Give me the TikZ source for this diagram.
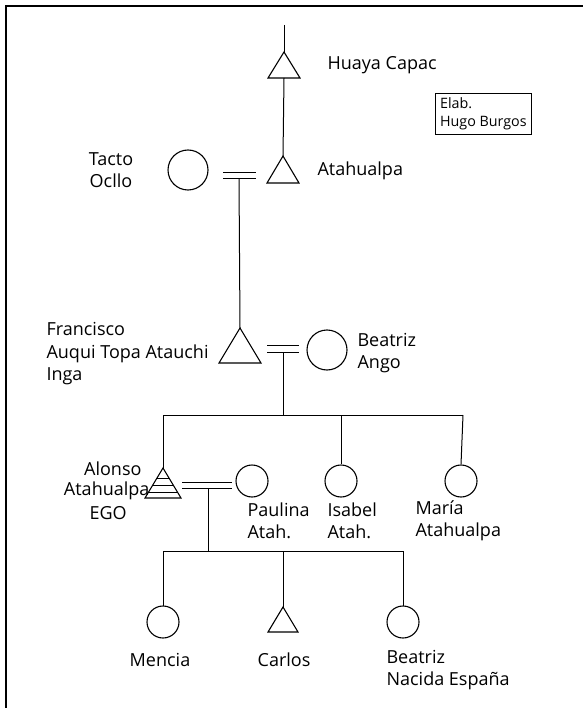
\documentclass[tikz,border=0pt]{standalone}
\usepackage{fontspec}
\setmainfont{Open Sans}
\begin{document}
\begin{tikzpicture}[x=1pt,y=-1pt,line width=1.1pt,
  female/.style={draw,circle,inner sep=0pt,minimum size=#1},
  lbl/.style={font=\fontsize{18}{22.5}\selectfont,inner sep=0pt,align=left},
  lblc/.style={font=\fontsize{18}{22.5}\selectfont,inner sep=0pt,align=center},
  link/.style={line width=1pt},
  marr/.style={line width=1pt}]
\useasboundingbox (0,0) rectangle (582,708);
% frame
\draw[line width=1.2pt] (6,6) rectangle (600,730);

% Huaya Capac
\coordinate (hcTop) at (284,25);
\coordinate (hcA) at (284,52);
\coordinate (hcB) at (284,78);
\draw (hcA) -- (268,78) -- (300,78) -- cycle;
\node[lbl,anchor=west] (hcL) at (327,65) {Huaya Capac};
\draw[link] (hcTop) -- (hcA);

% Atahualpa
\coordinate (atA) at (283,156);
\draw (atA) -- (267,183) -- (299,183) -- cycle;
\node[lbl,anchor=west] (atL) at (317,171) {Atahualpa};
\draw[link] (hcB) -- (atA);

% Tacto Ocllo
\node[female=40pt] (to) at (188,170) {};
\node[lblc] (toL) at (111,170) {Tacto\\Ocllo};

% marriage Tacto Ocllo = Atahualpa
\draw[marr] (223,173) -- (256,173);
\draw[marr] (223,179) -- (256,179);
\coordinate (m1) at (239,179);

% Francisco
\coordinate (frA) at (240,328);
\draw (frA) -- (219,363) -- (261,363) -- cycle;
\node[lbl,anchor=west] (frL) at (46,354) {Francisco\\Auqui Topa Atauchi\\Inga};
\draw[link] (m1) -- (frA);

% Beatriz Ango
\node[female=40pt] (ba) at (327,350) {};
\node[lbl,anchor=west] (baL) at (357,353) {Beatriz\\Ango};
\draw[marr] (267,345) -- (299,345);
\draw[marr] (267,352) -- (299,352);
\coordinate (m2) at (283,352);
\coordinate (sib) at (283,415);
\draw[link] (m2) -- (sib);

% sibling line
\coordinate (alA) at (163,468);
\draw[link] (alA) -- (163,415) -- (463,415);

% Alonso (EGO), hatched triangle
\draw (alA) -- (145,498) -- (181,498) -- cycle;
\draw[line width=0.9pt] (157.0,478) -- (169.0,478);
\draw[line width=0.9pt] (152.8,485) -- (173.2,485);
\draw[line width=0.9pt] (148.6,492) -- (177.4,492);
\node[lbl,anchor=east] (alL1) at (142,469) {Alonso};
\node[lbl,anchor=east] (alL2) at (150,491) {Atahualpa};
\node[lbl,anchor=west] (alL3) at (89,513) {EGO};

% Paulina
\node[female=32pt] (pa) at (252,481) {};
\node[lbl,anchor=west] (paL) at (247,521) {Paulina\\Atah.};
\draw[marr] (182,482.5) -- (232,482.5);
\draw[marr] (182,488) -- (232,488);
\coordinate (m3) at (208,488);

% Isabel
\node[female=32pt] (is) at (341,481) {};
\node[lbl,anchor=west] (isL) at (327,521) {Isabel\\Atah.};
\draw[link] (341,415) -- (is.north);

% María
\node[female=32pt] (ma) at (461,481) {};
\node[lbl,anchor=west] (maL) at (415,521) {María\\Atahualpa};
\draw[link] (463,415) -- (ma.north);

% children line
\coordinate (ch) at (208,551);
\draw[link] (m3) -- (ch);
\draw[link] (163,606) -- (163,551) -- (403,551) -- (403,606);

% Mencia
\node[female=32pt] (me) at (163,622) {};
\node[lblc] (meL) at (160,660) {Mencia};

% Carlos
\coordinate (caA) at (283,607);
\draw (caA) -- (268,632) -- (298,632) -- cycle;
\draw[link] (283,551) -- (caA);
\node[lblc] (caL) at (284,660) {Carlos};

% Beatriz Nacida España
\node[female=32pt] (bn) at (403,622) {};
\node[lbl,anchor=west] (bnL) at (386,670) {Beatriz\\Nacida España};

% author box
\node[draw,line width=0.8pt,anchor=north west,align=left,inner xsep=2pt,inner ysep=2pt,
      font=\fontsize{14.3}{18.5}\selectfont,minimum width=96pt,minimum height=41pt] (elab) at (435,93) {Elab.\\Hugo Burgos};
\end{tikzpicture}
\end{document}
